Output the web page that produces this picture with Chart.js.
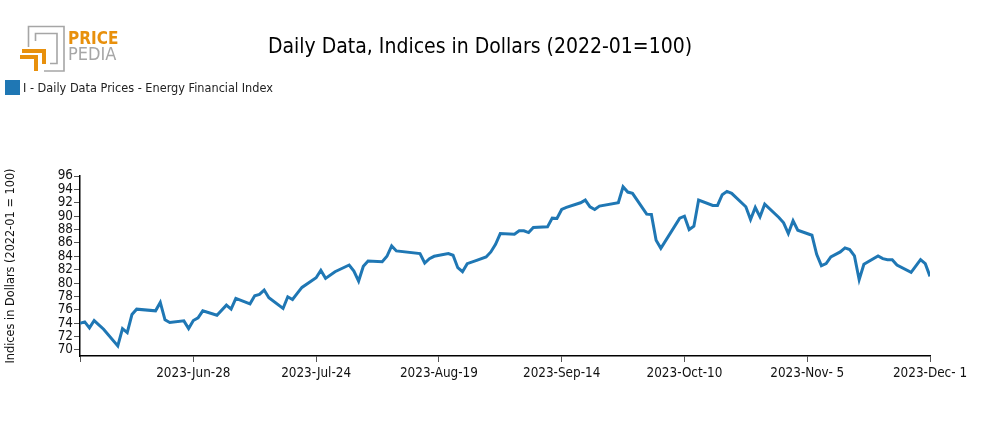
<!DOCTYPE html>
<html><head><meta charset="utf-8">
<script src="https://cdn.jsdelivr.net/npm/chart.js@4.4.0/dist/chart.umd.min.js"></script>
<style>html,body{margin:0;padding:0;background:#fff}#wrap{width:985px;height:430px;position:relative}</style>
</head><body><div id="wrap"><canvas id="c" width="985" height="430"></canvas></div>
<script>
const titleText = "Daily Data, Indices in Dollars (2022-01=100)";
const seriesLabel = "I - Daily Data Prices - Energy Financial Index";
const yTitle = "Indices in Dollars (2022-01 = 100)";
const startDate = "2023-06-04";
const endDate = "2023-12-01";
const dates = [
"2023-06-04","2023-06-05","2023-06-06","2023-06-07","2023-06-09","2023-06-12","2023-06-13","2023-06-14","2023-06-15","2023-06-16",
"2023-06-20","2023-06-21","2023-06-22","2023-06-23","2023-06-26","2023-06-27","2023-06-28","2023-06-29","2023-06-30","2023-07-03",
"2023-07-05","2023-07-06","2023-07-07","2023-07-10","2023-07-11","2023-07-12","2023-07-13","2023-07-14","2023-07-17","2023-07-18",
"2023-07-19","2023-07-20","2023-07-21","2023-07-24","2023-07-25","2023-07-26","2023-07-28","2023-07-31","2023-08-01","2023-08-02",
"2023-08-03","2023-08-04","2023-08-07","2023-08-08","2023-08-09","2023-08-10","2023-08-15","2023-08-16","2023-08-17","2023-08-18",
"2023-08-21","2023-08-22","2023-08-23","2023-08-24","2023-08-25","2023-08-27","2023-08-29","2023-08-30","2023-08-31","2023-09-01",
"2023-09-04","2023-09-05","2023-09-06","2023-09-07","2023-09-08","2023-09-11","2023-09-12","2023-09-13","2023-09-14","2023-09-15",
"2023-09-18","2023-09-19","2023-09-20","2023-09-21","2023-09-22","2023-09-26","2023-09-27","2023-09-28","2023-09-29","2023-10-02",
"2023-10-03","2023-10-04","2023-10-05","2023-10-09","2023-10-10","2023-10-11","2023-10-12","2023-10-13","2023-10-16","2023-10-17",
"2023-10-18","2023-10-19","2023-10-20","2023-10-23","2023-10-24","2023-10-25","2023-10-26","2023-10-27","2023-10-30","2023-10-31",
"2023-11-01","2023-11-02","2023-11-03","2023-11-06","2023-11-07","2023-11-08","2023-11-09","2023-11-10","2023-11-12","2023-11-13",
"2023-11-14","2023-11-15","2023-11-16","2023-11-17","2023-11-20","2023-11-21","2023-11-22","2023-11-23","2023-11-24","2023-11-27",
"2023-11-29","2023-11-30","2023-12-01"
];
const values = [
74.0,74.2,73.3,74.4,73.1,70.6,73.2,72.6,75.3,76.1,
75.85,77.1,74.5,74.1,74.35,73.2,74.4,74.8,75.85,75.2,
76.7,76.1,77.7,76.9,78.1,78.3,78.95,77.8,76.2,77.95,
77.55,78.45,79.35,80.8,81.9,80.7,81.7,82.7,81.8,80.3,
82.5,83.3,83.2,84.0,85.55,84.8,84.4,83.0,83.65,84.0,
84.4,84.15,82.3,81.7,82.9,83.4,83.9,84.65,85.8,87.4,
87.3,87.8,87.8,87.55,88.3,88.4,89.7,89.65,91.0,91.3,
92.0,92.4,91.4,91.0,91.5,92.0,94.4,93.6,93.4,90.3,
90.25,86.4,85.2,89.7,90.0,88.0,88.5,92.4,91.6,91.6,
93.2,93.7,93.4,91.4,89.5,91.3,89.9,91.8,89.8,89.0,
87.4,89.3,87.9,87.15,84.3,82.6,82.9,83.9,84.65,85.25,
85.0,84.05,80.5,82.8,84.05,83.65,83.5,83.5,82.7,81.6,
83.5,82.9,81.0
];
const tickDates = ["2023-06-04","2023-06-28","2023-07-24","2023-08-19","2023-09-14","2023-10-10","2023-11-05","2023-12-01"];
const tickLabels = ["","2023-Jun-28","2023-Jul-24","2023-Aug-19","2023-Sep-14","2023-Oct-10","2023-Nov- 5","2023-Dec- 1"];
const yTicks = [70,72,74,76,78,80,82,84,86,88,90,92,94,96];
const yMin = 69.1, yMax = 96;

const DAY = 86400000;
const dayOf = d => (Date.parse(d + "T00:00:00Z") - Date.parse(startDate + "T00:00:00Z")) / DAY;
const FONT = "'DejaVu Sans Condensed', 'Liberation Sans Narrow', Roboto, sans-serif";

const decor = {
  id: 'decor',
  afterDraw(chart) {
    const ctx = chart.ctx;
    ctx.save();
    ctx.fillStyle = '#000';
    ctx.font = "21px " + FONT;
    ctx.textAlign = 'center';
    ctx.textBaseline = 'middle';
    ctx.fillText(titleText, 480, 48);
    ctx.fillStyle = '#1f77b4';
    ctx.fillRect(5, 80, 15, 15);
    ctx.fillStyle = '#222';
    ctx.font = "12.6px " + FONT;
    ctx.textAlign = 'left';
    ctx.fillText(seriesLabel, 23, 88.5);
    ctx.lineCap = 'butt';
    ctx.strokeStyle = '#a6a6a6';
    ctx.lineWidth = 1.6;
    ctx.beginPath();
    ctx.moveTo(28.5, 47); ctx.lineTo(28.5, 26.5); ctx.lineTo(64, 26.5); ctx.lineTo(64, 71); ctx.lineTo(44, 71);
    ctx.stroke();
    ctx.beginPath();
    ctx.moveTo(35.5, 41); ctx.lineTo(35.5, 33.5); ctx.lineTo(57, 33.5); ctx.lineTo(57, 63.5); ctx.lineTo(50, 63.5);
    ctx.stroke();
    ctx.strokeStyle = '#e8900c';
    ctx.lineWidth = 4;
    ctx.beginPath();
    ctx.moveTo(22, 51); ctx.lineTo(44, 51); ctx.lineTo(44, 64);
    ctx.stroke();
    ctx.beginPath();
    ctx.moveTo(20, 57); ctx.lineTo(36, 57); ctx.lineTo(36, 71);
    ctx.stroke();
    ctx.textAlign = 'left';
    ctx.textBaseline = 'alphabetic';
    ctx.fillStyle = '#e8900c';
    ctx.font = "bold 17px " + FONT;
    ctx.fillText("PRICE", 68, 44);
    ctx.fillStyle = '#a6a6a6';
    ctx.font = "18px " + FONT;
    ctx.fillText("PEDIA", 68, 60);
    ctx.restore();
  }
};

new Chart(document.getElementById('c'), {
  type: 'line',
  data: {
    datasets: [{
      label: seriesLabel,
      data: dates.map((d, i) => ({ x: dayOf(d), y: values[i] })),
      borderColor: '#1f77b4',
      backgroundColor: '#1f77b4',
      borderWidth: 3,
      pointRadius: 0,
      tension: 0,
      fill: false
    }]
  },
  options: {
    responsive: false,
    animation: false,
    devicePixelRatio: 1,
    layout: { padding: { top: 176, right: 55, bottom: 44, left: 0 } },
    plugins: { legend: { display: false }, title: { display: false }, tooltip: { enabled: false } },
    scales: {
      x: {
        type: 'linear',
        min: 0,
        max: dayOf(endDate),
        afterBuildTicks: axis => { axis.ticks = tickDates.map(d => ({ value: dayOf(d) })); },
        afterFit: s => { s.height = 30; },
        ticks: {
          autoSkip: false, maxRotation: 0, padding: 3, color: '#111',
          font: { family: FONT, size: 13.4 },
          callback: (v) => { const i = tickDates.findIndex(d => dayOf(d) === v); return i >= 0 ? tickLabels[i] : ''; }
        },
        grid: { drawOnChartArea: false, drawTicks: true, tickLength: 6, color: '#555' },
        border: { color: '#000', width: 1.5 }
      },
      y: {
        min: yMin, max: yMax,
        afterBuildTicks: axis => { axis.ticks = yTicks.map(v => ({ value: v })); },
        afterFit: s => { s.width = 80; },
        ticks: { autoSkip: false, padding: 1, color: '#111', font: { family: FONT, size: 13.4 } },
        grid: { drawOnChartArea: false, drawTicks: true, tickLength: 6, color: '#555' },
        border: { color: '#000', width: 1.5 },
        title: { display: true, text: yTitle, color: '#111', font: { family: FONT, size: 12.6 }, padding: { top: 3, bottom: 0 } }
      }
    }
  },
  plugins: [decor]
});
</script></body></html>
